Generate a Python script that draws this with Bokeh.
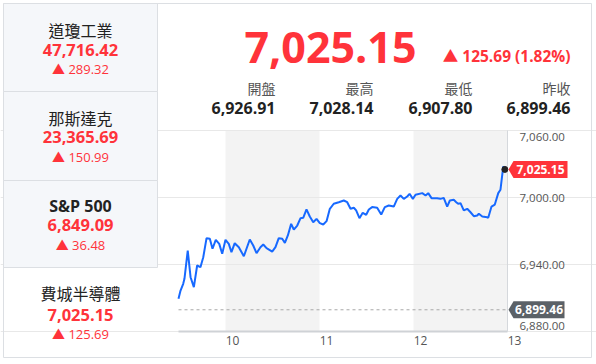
from bokeh.plotting import figure
from bokeh.models import (BoxAnnotation, Label, FixedTicker, Range1d, LinearAxis, Grid,
                          NumeralTickFormatter)
from bokeh.embed import file_html
from bokeh.resources import INLINE

# ---------------- data ----------------
index_names = ["道瓊工業", "那斯達克", "S&P 500", "費城半導體"]
index_values = ["47,716.42", "23,365.69", "6,849.09", "7,025.15"]
index_changes = ["▲ 289.32", "▲ 150.99", "▲ 36.48", "▲ 125.69"]

last_price = 7025.15
change_text = "▲ 125.69 (1.82%)"
stat_labels = ["開盤", "最高", "最低", "昨收"]
stat_values = [6926.91, 7028.14, 6907.80, 6899.46]
prev_close = 6899.46

# minutes after 09:30
minutes = [0.0, 1.3, 3.0, 3.8, 5.9, 7.7, 9.8, 11.9, 14.0, 15.8, 17.9, 20.0, 21.7, 23.8,
           26.0, 27.9, 30.0, 32.1, 33.8, 35.9, 38.5, 41.7, 45.5, 47.7, 49.8, 52.3, 54.1,
           56.2, 59.8, 61.9, 64.0, 66.2, 67.9, 69.8, 71.9, 73.6, 75.8, 77.9, 79.6, 81.7,
           83.8, 86.0, 88.1, 90.2, 92.4, 94.5, 96.6, 99.1, 102.3, 105.5, 107.7, 109.8,
           111.9, 113.4, 115.5, 117.6, 119.8, 121.5, 123.6, 126.8, 129.4, 131.7, 134.2,
           137.4, 139.6, 141.7, 143.8, 146.0, 147.5, 149.6, 151.3, 155.6, 157.7, 159.4,
           161.5, 165.1, 167.2, 169.3, 171.5, 173.2, 175.7, 177.3, 178.5, 180.0, 182.1,
           184.3, 186.4, 188.5, 190.7, 191.7, 193.9, 197.0, 197.7, 199.8, 201.9, 204.1,
           205.5, 207.3, 208.3]
prices = [6909.3, 6916.7, 6922.7, 6927.2, 6952.5, 6928.6, 6919.7, 6939.1, 6937.6, 6946.5,
          6963.6, 6963.0, 6954.1, 6962.1, 6958.5, 6949.6, 6962.1, 6958.5, 6951.0, 6959.1,
          6955.5, 6947.4, 6962.4, 6957.0, 6950.1, 6955.5, 6957.9, 6954.6, 6951.6, 6955.5,
          6963.6, 6963.0, 6959.4, 6966.0, 6976.4, 6971.3, 6974.9, 6981.5, 6981.8, 6989.3,
          6983.0, 6977.9, 6980.9, 6977.0, 6975.8, 6978.8, 6989.9, 6994.4, 6995.8, 6997.3,
          6995.8, 6989.9, 6990.8, 6988.4, 6981.5, 6986.3, 6984.5, 6989.3, 6991.4, 6990.8,
          6984.8, 6991.4, 6992.8, 6991.9, 6998.8, 7001.8, 6998.8, 7000.9, 7003.3, 6998.8,
          7002.4, 7003.9, 7001.8, 7003.9, 6999.4, 6999.4, 6998.8, 6999.7, 6991.9, 6997.3,
          6997.9, 6995.8, 6994.3, 6994.9, 6988.4, 6989.9, 6986.8, 6983.3, 6983.9, 6985.4,
          6983.0, 6982.4, 6981.8, 6991.9, 6993.7, 7003.9, 7006.9, 7027.8, 7025.15]
session_start = 9.5
x_ticks = [10, 11, 12, 13]
shaded_hours = [(10, 11), (12, 13)]
y_ticks = [6880, 6940, 7000, 7060]

# ---------------- layout (pixels) ----------------
W, H = 596, 364
FL, FR, FT, FB = 178, 507, 130, 331        # chart area inside the canvas
X0, X1 = 9.5, 13.0
Y0, Y1 = 6880.0, 7060.0
HPX = (X1 - X0) / (FR - FL)                 # hours per pixel
VPX = (Y1 - Y0) / (FB - FT)                 # points per pixel
LABEL_SHIFT = 7 * HPX                       # hour labels sit right of the hour line
END_INSET = 6                               # end price labels are pulled inside the chart

RED = "#ff333a"
DARK = "#222222"
GREY = "#555555"
BORDER = "#dcdfe3"
CELL = "#f5f7fa"
LATIN = "Open Sans"
MIXED = "Open Sans, Noto Sans CJK TC"
CJK = "Noto Sans CJK TC"

p = figure(width=W, height=H,
           x_range=Range1d(X0 - FL * HPX, X1 + (W - FR) * HPX),
           y_range=Range1d(Y0 - (H - FB) * VPX, Y1 + FT * VPX),
           output_backend="svg", toolbar_location=None,
           x_axis_type=None, y_axis_type=None, min_border=0)
p.outline_line_color = None
p.background_fill_color = "white"
p.border_fill_color = "white"
EVPX = (Y1 - Y0) / (FB - FT - 2 * END_INSET)
p.extra_x_ranges = {"px": Range1d(0, W),
                    "lab": Range1d(X0 - FL * HPX - LABEL_SHIFT, X1 + (W - FR) * HPX - LABEL_SHIFT)}
p.extra_y_ranges = {"px": Range1d(H, 0),
                    "ends": Range1d(Y0 - (H - FB + END_INSET) * EVPX,
                                    Y1 + (FT + END_INSET) * EVPX)}


def style_axis(ax, size, standoff):
    ax.axis_line_color = None
    ax.major_tick_line_color = None
    ax.minor_tick_line_color = None
    ax.major_label_standoff = standoff
    ax.major_label_text_font = LATIN
    ax.major_label_text_font_size = size
    ax.major_label_text_color = GREY


# axes drawn at fixed places inside the canvas
xaxis = LinearAxis(x_range_name="lab", fixed_location=Y0, ticker=FixedTicker(ticks=x_ticks))
style_axis(xaxis, "12px", -2)
p.add_layout(xaxis, "below")

yaxis = LinearAxis(fixed_location=X1, ticker=FixedTicker(ticks=y_ticks[1:-1]),
                   formatter=NumeralTickFormatter(format="0,0.00"))
style_axis(yaxis, "11.5px", 6)
p.add_layout(yaxis, "right")

yaxis_ends = LinearAxis(fixed_location=X1, y_range_name="ends",
                        ticker=FixedTicker(ticks=[y_ticks[0], y_ticks[-1]]),
                        formatter=NumeralTickFormatter(format="0,0.00"))
style_axis(yaxis_ends, "11.5px", 6)
p.add_layout(yaxis_ends, "right")

ygrid = Grid(dimension=1, ticker=FixedTicker(ticks=y_ticks), bounds=(X0, X1),
             grid_line_color="#e8e8e8")
p.add_layout(ygrid)

for a, b in shaded_hours:
    p.add_layout(BoxAnnotation(left=a, right=b, top=Y1, bottom=Y0, fill_color="#f3f3f3",
                               fill_alpha=1, line_color=None, level="image"))

# chart frame lines
p.segment(x0=[X0], y0=[Y0], x1=[X1], y1=[Y0], line_color="#cfd2d6", line_width=2)
p.segment(x0=[X1], y0=[Y0], x1=[X1], y1=[Y1], line_color="#d5d8dc", line_width=1)
p.segment(x0=[X0], y0=[prev_close], x1=[X1], y1=[prev_close], line_color="#a8a8a8",
          line_width=1, line_dash="3 3")

xs = [session_start + m / 60.0 for m in minutes]
p.line(xs, prices, line_color="#1769ff", line_width=2)
p.scatter([xs[-1]], [prices[-1]], size=6, color="#222222")

# ---------------- widget frame ----------------
p.quad(left=[3], right=[591], top=[3], bottom=[357], fill_color=None,
       line_color=BORDER, line_width=1, x_range_name="px", y_range_name="px")
cell_edges = [3, 91, 180, 267]
p.quad(left=[3, 3, 3], right=[157, 157, 157], top=cell_edges[:3], bottom=cell_edges[1:],
       fill_color=CELL, line_color=BORDER, line_width=1, x_range_name="px", y_range_name="px")


def label(px, py, text, size, color, bold=False, align="center", font=LATIN):
    p.add_layout(Label(x=px, y=py, x_range_name="px", y_range_name="px", text=text,
                       text_font_size=f"{size}px", text_color=color,
                       text_font_style="bold" if bold else "normal",
                       text_align=align, text_baseline="middle", text_font=font))


# left panel
name_y = [29, 117, 205, 292]
val_y = [49, 136, 224, 314]
chg_y = [68, 156, 244, 333]
for i in range(4):
    is_latin = index_names[i].isascii()
    label(80, name_y[i], index_names[i], 16, DARK, bold=is_latin,
          font=LATIN if is_latin else CJK)
    label(80, val_y[i], index_values[i], 16.5, RED, bold=True)
    label(80, chg_y[i], index_changes[i], 13, RED, font=MIXED)

# header
label(330, 47, f"{last_price:,.2f}", 43, RED, bold=True)
label(570, 55, change_text, 15.5, RED, bold=True, align="right", font=MIXED)
stat_right = [275, 373, 472, 570]
for i in range(4):
    label(stat_right[i], 87, stat_labels[i], 14, GREY, align="right", font=CJK)
    label(stat_right[i], 107, f"{stat_values[i]:,.2f}", 16, DARK, bold=True, align="right")


# price tags: x in pixels, y at the price
def tag(price, color, right_px):
    h = 8.5 * VPX
    tip, left = FR + 1, FR + 6
    p.patch([tip, left, right_px, right_px, left],
            [price, price + h, price + h, price - h, price - h],
            fill_color=color, line_color=None, x_range_name="px")
    p.add_layout(Label(x=(left + right_px) / 2, y=price, x_range_name="px", text=f"{price:,.2f}",
                       text_font_size="12px", text_color="white", text_font_style="bold",
                       text_align="center", text_baseline="middle", text_font=LATIN))


tag(last_price, RED, 567)
tag(prev_close, "#5b6167", 564)

open("out.html", "w").write(file_html(p, INLINE))
